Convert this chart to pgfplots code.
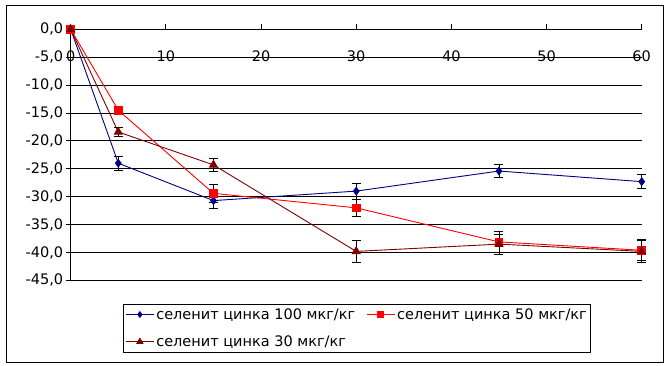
\documentclass[border=0pt]{standalone}
\usepackage{fontspec}
\setmainfont{DejaVu Sans}
\usepackage{pgfplots}
\usepackage{pgfplotstable}
\pgfplotsset{compat=1.18}
\definecolor{navyc}{RGB}{0,0,128}
\definecolor{maroonc}{RGB}{128,0,0}
\definecolor{redc}{RGB}{255,0,0}
\pgfkeys{/pgf/number format/assume math mode=true}
\pgfplotstableread{
x y e
0 0 0
5 -24.0 1.3
15 -30.7 1.4
30 -29.0 1.4
45 -25.4 1.15
60 -27.3 1.3
}\tblA
\pgfplotstableread{
x y e
0 0 0
5 -14.5 0.7
15 -29.4 1.55
30 -32.0 1.6
45 -38.1 1.8
60 -39.6 1.9
}\tblB
\pgfplotstableread{
x y e
0 0 0
5 -18.4 0.85
15 -24.3 1.25
30 -39.8 1.9
45 -38.5 1.8
60 -39.8 1.9
}\tblC
\begin{document}
\begin{tikzpicture}[x=1pt,y=1pt]
\useasboundingbox (-70.7,-85.6) rectangle (598.3,280.4);
\begin{axis}[
  scale only axis, width=571pt, height=251.1pt,
  at={(0,0)}, anchor=south west,
  xmin=0, xmax=60, ymin=-45, ymax=0,
  axis x line*=top, axis y line*=left,
  xtick={0,10,...,60}, ytick={-45,-40,...,0},
  ymajorgrids, grid style={black, line width=0.8pt},
  axis line style={black, line width=0.8pt, -},
  tick style={black, line width=0.8pt},
  tick align=outside, major tick length=5pt,
  font=\fontsize{14.5}{17}\selectfont,
  yticklabel={\pgfmathprintnumber[fixed,fixed zerofill,precision=1,use comma]{\tick}},
  yticklabel style={xshift=1pt},
  xticklabel style={anchor=north, yshift=-23pt},
  clip=false,
  legend columns=2,
  legend cell align=left,
  legend style={at={(0.0916,-0.094)}, anchor=north west, draw=black, line width=0.8pt,
    font=\fontsize{14.5}{17}\selectfont, row sep=11pt, inner sep=2pt,
    /tikz/every even column/.append style={column sep=9pt}},
  legend image code/.code={\draw[mark repeat=2,mark phase=2] plot coordinates {(0pt,0pt) (14pt,0pt) (28pt,0pt)};},
]
\addplot[navyc, line width=0.9pt, mark=diamond*, mark size=3.8pt, mark options={solid, fill=navyc},
  legend image post style={mark size=2.8pt},
  error bars/.cd, y dir=both, y explicit,
  error bar style={black, line width=0.8pt},
  error mark options={black, rotate=90, mark size=4.5pt, line width=0.8pt}]
  table[x=x, y=y, y error=e]{\tblA};
\addlegendentry{селенит цинка 100 мкг/кг}
\addplot[redc, line width=0.9pt, mark=square*, mark size=3.8pt, mark options={solid, fill=redc},
  legend image post style={mark size=3pt},
  error bars/.cd, y dir=both, y explicit,
  error bar style={black, line width=0.8pt},
  error mark options={black, rotate=90, mark size=4.5pt, line width=0.8pt}]
  table[x=x, y=y, y error=e]{\tblB};
\addlegendentry{селенит цинка 50 мкг/кг}
\addplot[maroonc, line width=0.9pt, mark=triangle*, mark size=4.5pt, mark options={solid, fill=maroonc},
  legend image post style={mark size=3.5pt},
  error bars/.cd, y dir=both, y explicit,
  error bar style={black, line width=0.8pt},
  error mark options={black, rotate=90, mark size=4.5pt, line width=0.8pt}]
  table[x=x, y=y, y error=e]{\tblC};
\addlegendentry{селенит цинка 30 мкг/кг}
\end{axis}
\draw[line width=0.8pt] (-64.7,-81.6) rectangle (592.3,275.4);
\end{tikzpicture}
\end{document}
